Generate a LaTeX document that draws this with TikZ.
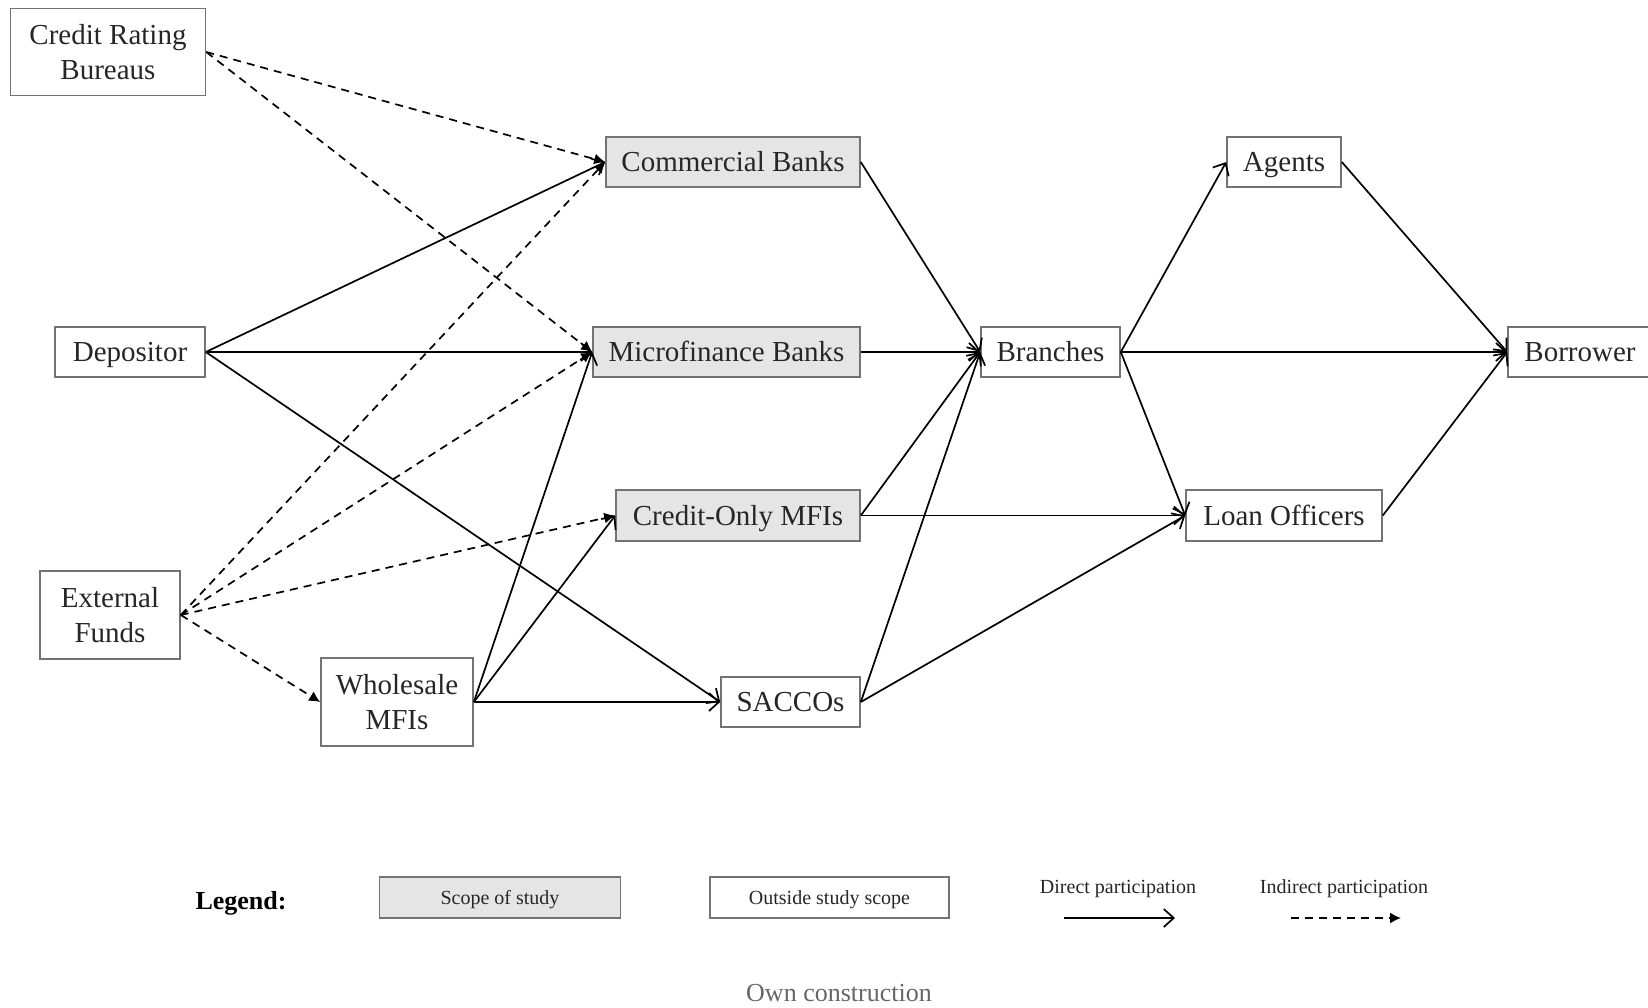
\documentclass[tikz,border=0pt]{standalone}
\usepackage{fontspec}
\setmainfont{Liberation Serif}
\usetikzlibrary{arrows.meta}
\begin{document}
\begin{tikzpicture}[x=0.5pt,y=-0.5pt,
  box/.style={draw=black!55, line width=0.8pt, inner sep=0pt, align=center,
    font=\fontsize{14.5}{17.5}\selectfont, text=black!85},
  one/.style={text height=11pt, text depth=1.5pt},
  inscope/.style={box, one, fill=black!10},
  lbox/.style={draw=black!55, line width=0.8pt, inner sep=0pt, align=center,
    font=\fontsize{10}{12}\selectfont, text=black!85, minimum height=20.5pt,
    text height=7.5pt, text depth=1pt},
  direct/.style={line width=0.85pt, -{Straight Barb[length=5pt,width=9pt]}},
  indirect/.style={line width=0.85pt, dash pattern=on 4pt off 3pt, -{Latex[length=5.5pt,width=5.5pt]}}]
\useasboundingbox (0,0) rectangle (1648,1007);

% nodes
\node[box, minimum width=97.5pt, minimum height=43.5pt] (crb) at (108,52) {Credit Rating\\Bureaus};
\node[box, one, minimum width=75pt, minimum height=25pt] (dep) at (130,352) {Depositor};
\node[box, minimum width=70pt, minimum height=44pt] (ext) at (110,615) {External\\Funds};
\node[box, minimum width=76pt, minimum height=44pt] (whole) at (397,702) {Wholesale\\MFIs};
\node[inscope, minimum width=127pt, minimum height=25pt] (cb) at (733,162) {Commercial Banks};
\node[inscope, minimum width=133.5pt, minimum height=25pt] (mfb) at (726.5,352) {Microfinance Banks};
\node[inscope, minimum width=122pt, minimum height=25.5pt] (co) at (738,515.5) {Credit-Only MFIs};
\node[box, one, minimum width=69.5pt, minimum height=25pt] (sacco) at (790.5,702) {SACCOs};
\node[box, one, minimum width=69.5pt, minimum height=25pt] (br) at (1050.5,352) {Branches};
\node[box, one, minimum width=57pt, minimum height=25pt] (ag) at (1284,162) {Agents};
\node[box, one, minimum width=98pt, minimum height=25.5pt] (lo) at (1284,515.5) {Loan Officers};
\node[box, one, minimum width=72pt, minimum height=25pt] (bor) at (1580,352) {Borrower};

% indirect connectors
\draw[indirect] (crb.east) -- (cb.west);
\draw[indirect] (crb.east) -- (mfb.west);
\draw[indirect] (ext.east) -- (cb.west);
\draw[indirect] (ext.east) -- (mfb.west);
\draw[indirect] (ext.east) -- (co.west);
\draw[indirect] (ext.east) -- (whole.west);

% direct connectors
\draw[direct] (dep.east) -- (cb.west);
\draw[direct] (dep.east) -- (mfb.west);
\draw[direct] (dep.east) -- (sacco.west);
\draw[direct] (whole.east) -- (mfb.west);
\draw[direct] (whole.east) -- (co.west);
\draw[direct] (whole.east) -- (sacco.west);
\draw[direct] (cb.east) -- (br.west);
\draw[direct] (mfb.east) -- (br.west);
\draw[direct] (co.east) -- (br.west);
\draw[direct] (co.east) -- (lo.west);
\draw[direct] (sacco.east) -- (br.west);
\draw[direct] (sacco.east) -- (lo.west);
\draw[direct] (br.east) -- (ag.west);
\draw[direct] (br.east) -- (bor.west);
\draw[direct] (br.east) -- (lo.west);
\draw[direct] (ag.east) -- (bor.west);
\draw[direct] (lo.east) -- (bor.west);

% legend
\node[font=\bfseries\fontsize{13}{15}\selectfont] (leg) at (241,903) {Legend:};
\node[lbox, fill=black!10, minimum width=120.5pt] (lscope) at (500,897.5) {Scope of study};
\node[lbox, minimum width=119.5pt] (lout) at (829.5,897.5) {Outside study scope};
\node[font=\fontsize{10}{12}\selectfont, text=black!85] (ldir) at (1118,889) {Direct participation};
\node[font=\fontsize{10}{12}\selectfont, text=black!85] (lind) at (1344,889) {Indirect participation};
\coordinate (d1) at (1064,918);
\coordinate (d2) at (1175,918);
\coordinate (i1) at (1291,918);
\coordinate (i2) at (1401,918);
\draw[direct] (d1) -- (d2);
\draw[indirect] (i1) -- (i2);

\node[font=\fontsize{13}{15}\selectfont, text=black!60] (own) at (839,993) {Own construction};
\end{tikzpicture}
\end{document}
